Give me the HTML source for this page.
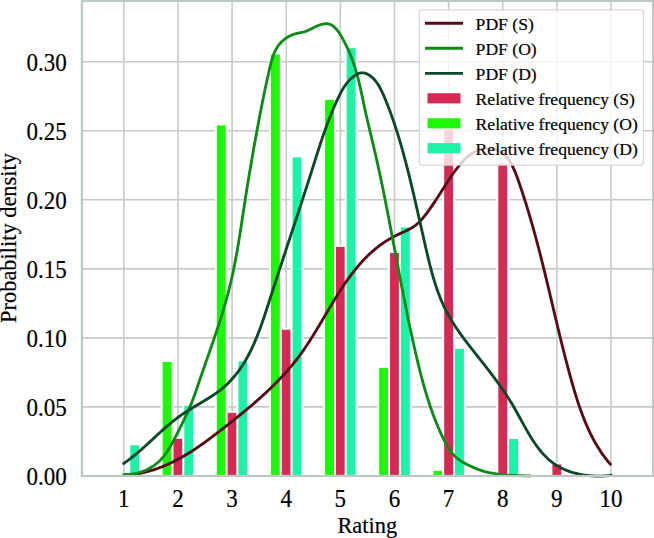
<!DOCTYPE html>
<html><head><meta charset="utf-8"><style>
html,body{margin:0;padding:0;background:#fff;width:654px;height:538px;overflow:hidden}
svg{display:block}
text{font-family:"Liberation Serif",serif;fill:#000;stroke:#000;stroke-width:0.2px}
</style></head><body>
<svg width="654" height="538" viewBox="0 0 654 538">
<rect width="654" height="538" fill="#fff"/>
<g stroke="#c4cbc8" stroke-width="1.6" fill="none">
<line x1="123.83" y1="1.0" x2="123.83" y2="476.0" />
<line x1="177.96" y1="1.0" x2="177.96" y2="476.0" />
<line x1="232.09" y1="1.0" x2="232.09" y2="476.0" />
<line x1="286.22" y1="1.0" x2="286.22" y2="476.0" />
<line x1="340.35" y1="1.0" x2="340.35" y2="476.0" />
<line x1="394.48" y1="1.0" x2="394.48" y2="476.0" />
<line x1="448.61" y1="1.0" x2="448.61" y2="476.0" />
<line x1="502.74" y1="1.0" x2="502.74" y2="476.0" />
<line x1="556.87" y1="1.0" x2="556.87" y2="476.0" />
<line x1="611.00" y1="1.0" x2="611.00" y2="476.0" />
<line x1="81.9" y1="406.88" x2="653.2" y2="406.88" />
<line x1="81.9" y1="337.86" x2="653.2" y2="337.86" />
<line x1="81.9" y1="268.84" x2="653.2" y2="268.84" />
<line x1="81.9" y1="199.82" x2="653.2" y2="199.82" />
<line x1="81.9" y1="130.80" x2="653.2" y2="130.80" />
<line x1="81.9" y1="61.78" x2="653.2" y2="61.78" />
</g>
<g>
<rect x="161.72" y="360.93" width="10.83" height="114.97" fill="#1ef806" stroke="#fff" stroke-width="1.9"/>
<rect x="215.85" y="124.47" width="10.83" height="351.43" fill="#1ef806" stroke="#fff" stroke-width="1.9"/>
<rect x="269.98" y="53.65" width="10.83" height="422.25" fill="#1ef806" stroke="#fff" stroke-width="1.9"/>
<rect x="324.11" y="98.93" width="10.83" height="376.97" fill="#1ef806" stroke="#fff" stroke-width="1.9"/>
<rect x="378.24" y="367.00" width="10.83" height="108.90" fill="#1ef806" stroke="#fff" stroke-width="1.9"/>
<rect x="432.37" y="469.84" width="10.83" height="6.06" fill="#1ef806" stroke="#fff" stroke-width="1.9"/>
<rect x="172.55" y="437.82" width="10.83" height="38.08" fill="#d62a55" stroke="#fff" stroke-width="1.9"/>
<rect x="226.68" y="411.87" width="10.83" height="64.03" fill="#d62a55" stroke="#fff" stroke-width="1.9"/>
<rect x="280.81" y="328.77" width="10.83" height="147.13" fill="#d62a55" stroke="#fff" stroke-width="1.9"/>
<rect x="334.94" y="245.94" width="10.83" height="229.96" fill="#d62a55" stroke="#fff" stroke-width="1.9"/>
<rect x="389.07" y="252.02" width="10.83" height="223.88" fill="#d62a55" stroke="#fff" stroke-width="1.9"/>
<rect x="443.20" y="128.47" width="10.83" height="347.43" fill="#d62a55" stroke="#fff" stroke-width="1.9"/>
<rect x="497.33" y="162.57" width="10.83" height="313.33" fill="#d62a55" stroke="#fff" stroke-width="1.9"/>
<rect x="551.46" y="463.49" width="10.83" height="12.41" fill="#d62a55" stroke="#fff" stroke-width="1.9"/>
<rect x="129.24" y="444.31" width="10.83" height="31.59" fill="#1ef2a6" stroke="#fff" stroke-width="1.9"/>
<rect x="183.37" y="404.83" width="10.83" height="71.07" fill="#1ef2a6" stroke="#fff" stroke-width="1.9"/>
<rect x="237.50" y="360.51" width="10.83" height="115.39" fill="#1ef2a6" stroke="#fff" stroke-width="1.9"/>
<rect x="291.63" y="156.49" width="10.83" height="319.41" fill="#1ef2a6" stroke="#fff" stroke-width="1.9"/>
<rect x="345.76" y="47.16" width="10.83" height="428.74" fill="#1ef2a6" stroke="#fff" stroke-width="1.9"/>
<rect x="399.89" y="226.48" width="10.83" height="249.42" fill="#1ef2a6" stroke="#fff" stroke-width="1.9"/>
<rect x="454.02" y="347.82" width="10.83" height="128.08" fill="#1ef2a6" stroke="#fff" stroke-width="1.9"/>
<rect x="508.15" y="437.96" width="10.83" height="37.94" fill="#1ef2a6" stroke="#fff" stroke-width="1.9"/>
</g>
<g fill="none" stroke-width="2.85" stroke-linecap="round" stroke-linejoin="round">
<path d="M124.03,475.13 L125.28,475.07 L126.53,474.99 L127.78,474.91 L129.01,474.81 L130.25,474.69 L131.48,474.56 L132.70,474.42 L133.92,474.26 L135.14,474.09 L136.35,473.91 L137.56,473.71 L138.76,473.50 L139.96,473.28 L141.15,473.04 L142.34,472.79 L143.52,472.53 L144.70,472.26 L145.88,471.98 L147.05,471.68 L148.22,471.37 L149.38,471.05 L150.54,470.72 L151.69,470.38 L152.84,470.02 L153.99,469.66 L155.13,469.28 L156.27,468.90 L157.41,468.50 L158.54,468.09 L159.66,467.67 L160.79,467.24 L161.91,466.81 L163.02,466.36 L164.14,465.90 L165.25,465.43 L166.35,464.96 L167.45,464.47 L168.55,463.97 L169.65,463.47 L170.74,462.96 L171.83,462.44 L172.91,461.91 L173.99,461.37 L175.07,460.82 L176.15,460.27 L177.22,459.70 L178.29,459.13 L179.35,458.56 L180.42,457.97 L181.48,457.38 L182.53,456.78 L183.59,456.17 L184.64,455.56 L185.69,454.94 L186.73,454.31 L187.78,453.68 L188.82,453.04 L189.85,452.40 L190.89,451.74 L191.92,451.09 L192.95,450.43 L193.98,449.76 L195.00,449.08 L196.02,448.41 L197.04,447.72 L198.06,447.03 L199.08,446.34 L200.09,445.64 L201.10,444.94 L202.11,444.23 L203.12,443.52 L204.12,442.81 L205.12,442.09 L206.12,441.37 L207.12,440.64 L208.12,439.91 L209.11,439.18 L210.11,438.45 L211.10,437.71 L212.09,436.97 L213.07,436.22 L214.06,435.48 L215.04,434.73 L216.02,433.98 L217.01,433.23 L217.98,432.47 L218.96,431.72 L219.94,430.96 L220.91,430.20 L221.89,429.44 L222.86,428.68 L223.83,427.92 L224.80,427.15 L225.77,426.39 L226.74,425.63 L227.70,424.86 L228.67,424.10 L229.63,423.33 L230.59,422.57 L231.56,421.80 L232.52,421.03 L233.48,420.27 L234.43,419.50 L235.39,418.73 L236.34,417.96 L237.30,417.20 L238.25,416.43 L239.20,415.66 L240.15,414.88 L241.09,414.11 L242.04,413.34 L242.98,412.56 L243.92,411.79 L244.86,411.01 L245.80,410.23 L246.74,409.45 L247.67,408.67 L248.60,407.89 L249.53,407.11 L250.46,406.32 L251.39,405.54 L252.31,404.75 L253.23,403.96 L254.15,403.17 L255.07,402.37 L255.98,401.58 L256.89,400.78 L257.80,399.98 L258.71,399.18 L259.61,398.38 L260.51,397.57 L261.41,396.76 L262.31,395.95 L263.20,395.14 L264.09,394.33 L264.98,393.51 L265.86,392.69 L266.75,391.87 L267.62,391.04 L268.50,390.22 L269.37,389.39 L270.24,388.55 L271.11,387.72 L271.97,386.88 L272.83,386.04 L273.69,385.19 L274.54,384.34 L275.39,383.49 L276.24,382.64 L277.08,381.78 L277.92,380.92 L278.76,380.06 L279.59,379.19 L280.42,378.32 L281.24,377.45 L282.06,376.57 L282.88,375.69 L283.70,374.80 L284.50,373.92 L285.31,373.02 L286.11,372.13 L286.91,371.23 L287.70,370.32 L288.49,369.41 L289.28,368.50 L290.06,367.58 L290.84,366.66 L291.61,365.74 L292.38,364.81 L293.14,363.88 L293.90,362.94 L294.66,362.00 L295.41,361.05 L296.15,360.10 L296.89,359.14 L297.63,358.18 L298.36,357.21 L299.09,356.24 L299.81,355.27 L300.53,354.29 L301.24,353.30 L301.95,352.31 L302.66,351.32 L303.36,350.32 L304.05,349.32 L304.74,348.31 L305.43,347.30 L306.12,346.29 L306.80,345.27 L307.48,344.25 L308.15,343.22 L308.82,342.19 L309.49,341.16 L310.15,340.13 L310.82,339.09 L311.48,338.05 L312.13,337.01 L312.79,335.96 L313.44,334.92 L314.09,333.87 L314.74,332.81 L315.38,331.76 L316.03,330.70 L316.67,329.65 L317.31,328.59 L317.95,327.53 L318.58,326.47 L319.22,325.40 L319.86,324.34 L320.49,323.27 L321.12,322.21 L321.76,321.14 L322.39,320.07 L323.02,319.00 L323.65,317.94 L324.28,316.87 L324.91,315.80 L325.54,314.73 L326.17,313.66 L326.81,312.59 L327.44,311.53 L328.07,310.46 L328.70,309.39 L329.33,308.33 L329.97,307.26 L330.60,306.20 L331.24,305.14 L331.88,304.07 L332.52,303.02 L333.16,301.96 L333.80,300.90 L334.44,299.85 L335.09,298.79 L335.73,297.74 L336.38,296.69 L337.04,295.65 L337.69,294.60 L338.35,293.56 L339.01,292.52 L339.67,291.49 L340.33,290.45 L341.00,289.42 L341.67,288.40 L342.34,287.38 L343.02,286.36 L343.70,285.34 L344.39,284.33 L345.07,283.32 L345.77,282.31 L346.46,281.31 L347.16,280.32 L347.86,279.33 L348.57,278.34 L349.29,277.35 L350.00,276.38 L350.72,275.40 L351.45,274.44 L352.18,273.47 L352.92,272.51 L353.66,271.56 L354.41,270.61 L355.16,269.67 L355.92,268.74 L356.68,267.81 L357.45,266.88 L358.23,265.97 L359.01,265.05 L359.80,264.15 L360.59,263.25 L361.39,262.36 L362.20,261.47 L363.01,260.60 L363.83,259.72 L364.66,258.86 L365.49,258.00 L366.33,257.15 L367.18,256.31 L368.04,255.48 L368.90,254.65 L369.77,253.83 L370.65,253.02 L371.54,252.22 L372.43,251.43 L373.34,250.64 L374.25,249.86 L375.17,249.09 L376.09,248.33 L377.03,247.58 L377.98,246.84 L378.93,246.11 L379.89,245.39 L380.87,244.67 L381.85,243.97 L382.84,243.27 L383.84,242.59 L384.85,241.91 L385.87,241.25 L386.90,240.59 L387.94,239.95 L388.99,239.32 L390.05,238.69 L391.12,238.08 L392.20,237.48 L393.29,236.89 L394.39,236.31 L395.51,235.74 L396.63,235.18 L397.76,234.64 L398.91,234.10 L400.06,233.58 L401.22,233.05 L402.38,232.53 L403.54,232.01 L404.69,231.49 L405.84,230.95 L406.98,230.41 L408.11,229.85 L409.22,229.28 L410.31,228.69 L411.38,228.07 L412.42,227.43 L413.44,226.76 L414.43,226.06 L415.39,225.34 L416.33,224.59 L417.25,223.81 L418.14,223.01 L419.01,222.19 L419.86,221.35 L420.70,220.49 L421.51,219.61 L422.31,218.71 L423.10,217.80 L423.87,216.88 L424.63,215.94 L425.37,214.99 L426.11,214.04 L426.84,213.07 L427.56,212.10 L428.27,211.12 L428.98,210.13 L429.68,209.14 L430.38,208.15 L431.07,207.16 L431.76,206.16 L432.45,205.15 L433.13,204.15 L433.81,203.14 L434.49,202.12 L435.16,201.11 L435.83,200.09 L436.50,199.07 L437.17,198.04 L437.84,197.02 L438.50,195.99 L439.16,194.96 L439.83,193.93 L440.49,192.90 L441.15,191.86 L441.81,190.83 L442.47,189.79 L443.13,188.75 L443.80,187.72 L444.46,186.68 L445.13,185.64 L445.79,184.60 L446.46,183.56 L447.13,182.52 L447.80,181.48 L448.48,180.44 L449.16,179.41 L449.84,178.37 L450.53,177.34 L451.23,176.31 L451.93,175.29 L452.63,174.27 L453.35,173.25 L454.07,172.24 L454.80,171.23 L455.54,170.23 L456.29,169.23 L457.05,168.25 L457.82,167.27 L458.60,166.30 L459.39,165.33 L460.20,164.38 L461.02,163.43 L461.86,162.50 L462.71,161.58 L463.57,160.66 L464.45,159.76 L465.35,158.88 L466.26,158.01 L467.19,157.16 L468.14,156.33 L469.10,155.53 L470.09,154.76 L471.09,154.03 L472.11,153.32 L473.16,152.66 L474.22,152.04 L475.31,151.46 L476.41,150.93 L477.54,150.44 L478.69,150.02 L479.85,149.64 L481.03,149.31 L482.22,149.04 L483.42,148.81 L484.62,148.64 L485.82,148.52 L487.02,148.45 L488.22,148.42 L489.41,148.45 L490.58,148.53 L491.74,148.66 L492.88,148.84 L494.00,149.06 L495.10,149.34 L496.17,149.66 L497.20,150.03 L498.21,150.46 L499.18,150.92 L500.12,151.44 L501.03,151.99 L501.91,152.59 L502.77,153.23 L503.60,153.91 L504.40,154.62 L505.17,155.38 L505.92,156.16 L506.65,156.99 L507.35,157.84 L508.04,158.73 L508.70,159.64 L509.34,160.58 L509.96,161.55 L510.56,162.54 L511.14,163.56 L511.71,164.60 L512.26,165.66 L512.80,166.74 L513.32,167.84 L513.83,168.96 L514.33,170.09 L514.81,171.23 L515.29,172.39 L515.75,173.56 L516.21,174.74 L516.66,175.92 L517.10,177.11 L517.53,178.31 L517.96,179.51 L518.38,180.72 L518.80,181.92 L519.22,183.13 L519.64,184.33 L520.05,185.54 L520.46,186.74 L520.86,187.94 L521.27,189.14 L521.67,190.35 L522.07,191.55 L522.46,192.75 L522.86,193.95 L523.25,195.15 L523.64,196.35 L524.02,197.54 L524.41,198.74 L524.79,199.94 L525.17,201.14 L525.55,202.33 L525.92,203.53 L526.29,204.72 L526.66,205.92 L527.03,207.11 L527.40,208.31 L527.76,209.50 L528.12,210.70 L528.48,211.89 L528.84,213.08 L529.20,214.27 L529.55,215.46 L529.90,216.65 L530.25,217.85 L530.60,219.04 L530.95,220.23 L531.29,221.41 L531.63,222.60 L531.97,223.79 L532.31,224.98 L532.65,226.17 L532.98,227.36 L533.31,228.54 L533.65,229.73 L533.98,230.92 L534.30,232.10 L534.63,233.29 L534.96,234.47 L535.28,235.66 L535.60,236.84 L535.92,238.03 L536.24,239.21 L536.56,240.40 L536.87,241.58 L537.19,242.76 L537.50,243.95 L537.81,245.13 L538.12,246.31 L538.43,247.49 L538.74,248.68 L539.05,249.86 L539.35,251.04 L539.66,252.22 L539.96,253.40 L540.26,254.58 L540.56,255.76 L540.86,256.94 L541.16,258.12 L541.46,259.30 L541.75,260.48 L542.05,261.66 L542.34,262.84 L542.64,264.02 L542.93,265.20 L543.22,266.38 L543.51,267.56 L543.80,268.74 L544.09,269.91 L544.38,271.09 L544.67,272.27 L544.96,273.45 L545.24,274.63 L545.53,275.80 L545.82,276.98 L546.10,278.16 L546.38,279.34 L546.67,280.51 L546.95,281.69 L547.23,282.87 L547.51,284.05 L547.80,285.22 L548.08,286.40 L548.36,287.58 L548.64,288.75 L548.92,289.93 L549.20,291.11 L549.48,292.28 L549.76,293.46 L550.03,294.64 L550.31,295.81 L550.59,296.99 L550.87,298.17 L551.15,299.34 L551.43,300.52 L551.70,301.70 L551.98,302.87 L552.26,304.05 L552.54,305.23 L552.82,306.40 L553.09,307.58 L553.37,308.76 L553.65,309.93 L553.93,311.11 L554.21,312.29 L554.48,313.46 L554.76,314.64 L555.04,315.82 L555.32,317.00 L555.60,318.17 L555.88,319.35 L556.16,320.53 L556.44,321.71 L556.72,322.88 L557.00,324.06 L557.29,325.24 L557.57,326.42 L557.85,327.60 L558.13,328.77 L558.42,329.95 L558.70,331.13 L558.99,332.31 L559.27,333.49 L559.56,334.67 L559.85,335.85 L560.13,337.03 L560.42,338.21 L560.71,339.39 L561.00,340.57 L561.29,341.75 L561.58,342.93 L561.88,344.11 L562.17,345.29 L562.46,346.47 L562.76,347.66 L563.06,348.84 L563.35,350.02 L563.65,351.20 L563.95,352.38 L564.25,353.57 L564.55,354.75 L564.86,355.93 L565.16,357.12 L565.46,358.30 L565.77,359.49 L566.08,360.67 L566.39,361.86 L566.70,363.04 L567.01,364.23 L567.32,365.41 L567.64,366.60 L567.95,367.79 L568.27,368.97 L568.59,370.16 L568.91,371.35 L569.23,372.54 L569.55,373.73 L569.87,374.91 L570.20,376.10 L570.53,377.29 L570.86,378.48 L571.19,379.67 L571.52,380.86 L571.86,382.06 L572.19,383.25 L572.53,384.44 L572.87,385.63 L573.22,386.82 L573.56,388.01 L573.91,389.20 L574.26,390.38 L574.62,391.57 L574.98,392.76 L575.34,393.94 L575.70,395.13 L576.07,396.31 L576.44,397.50 L576.81,398.68 L577.19,399.86 L577.57,401.03 L577.95,402.21 L578.34,403.39 L578.73,404.56 L579.13,405.73 L579.53,406.90 L579.94,408.07 L580.34,409.23 L580.76,410.39 L581.18,411.55 L581.60,412.71 L582.03,413.87 L582.46,415.02 L582.90,416.17 L583.34,417.32 L583.79,418.46 L584.25,419.60 L584.71,420.74 L585.17,421.87 L585.64,423.00 L586.12,424.13 L586.60,425.25 L587.09,426.37 L587.59,427.48 L588.09,428.60 L588.59,429.70 L589.11,430.81 L589.63,431.91 L590.16,433.00 L590.69,434.09 L591.23,435.18 L591.78,436.26 L592.33,437.33 L592.89,438.41 L593.46,439.47 L594.04,440.53 L594.62,441.59 L595.22,442.64 L595.82,443.69 L596.42,444.73 L597.04,445.76 L597.66,446.79 L598.29,447.81 L598.93,448.83 L599.58,449.84 L600.24,450.85 L600.91,451.85 L601.58,452.84 L602.26,453.83 L602.95,454.81 L603.66,455.78 L604.37,456.75 L605.08,457.71 L605.81,458.66 L606.55,459.61 L607.30,460.55 L608.06,461.48 L608.82,462.41 L609.60,463.32 L610.39,464.23" stroke="#580b14"/>
<path d="M123.94,474.31 L125.40,474.39 L126.88,474.40 L128.36,474.37 L129.86,474.27 L131.36,474.13 L132.87,473.93 L134.38,473.68 L135.89,473.38 L137.39,473.04 L138.89,472.64 L140.39,472.19 L141.87,471.70 L143.33,471.16 L144.79,470.58 L146.22,469.95 L147.63,469.28 L149.02,468.57 L150.39,467.82 L151.72,467.02 L153.03,466.19 L154.30,465.31 L155.53,464.40 L156.73,463.45 L157.88,462.47 L159.00,461.45 L160.07,460.40 L161.11,459.31 L162.12,458.20 L163.09,457.06 L164.03,455.89 L164.94,454.70 L165.82,453.48 L166.68,452.25 L167.52,450.99 L168.33,449.71 L169.13,448.42 L169.90,447.12 L170.66,445.80 L171.41,444.47 L172.14,443.12 L172.87,441.78 L173.58,440.42 L174.29,439.06 L175.00,437.70 L175.70,436.33 L176.41,434.97 L177.11,433.60 L177.81,432.24 L178.50,430.87 L179.20,429.50 L179.89,428.14 L180.58,426.77 L181.27,425.40 L181.95,424.03 L182.62,422.65 L183.30,421.28 L183.96,419.90 L184.63,418.52 L185.28,417.14 L185.93,415.76 L186.57,414.38 L187.21,412.99 L187.84,411.60 L188.46,410.21 L189.07,408.82 L189.67,407.42 L190.27,406.02 L190.86,404.61 L191.43,403.21 L192.00,401.80 L192.55,400.38 L193.10,398.96 L193.63,397.54 L194.16,396.12 L194.68,394.69 L195.19,393.26 L195.70,391.83 L196.20,390.40 L196.70,388.96 L197.19,387.53 L197.68,386.09 L198.17,384.65 L198.66,383.21 L199.15,381.77 L199.64,380.33 L200.13,378.89 L200.62,377.44 L201.11,376.00 L201.61,374.56 L202.11,373.12 L202.60,371.68 L203.10,370.24 L203.60,368.80 L204.10,367.35 L204.60,365.91 L205.11,364.47 L205.61,363.03 L206.11,361.59 L206.62,360.14 L207.12,358.70 L207.62,357.26 L208.13,355.82 L208.63,354.37 L209.14,352.93 L209.64,351.48 L210.14,350.04 L210.64,348.60 L211.14,347.15 L211.64,345.70 L212.14,344.26 L212.64,342.81 L213.14,341.37 L213.63,339.92 L214.13,338.47 L214.62,337.02 L215.11,335.57 L215.60,334.12 L216.09,332.67 L216.57,331.22 L217.05,329.77 L217.53,328.32 L218.01,326.87 L218.49,325.42 L218.96,323.96 L219.43,322.51 L219.90,321.05 L220.36,319.60 L220.82,318.14 L221.28,316.68 L221.73,315.23 L222.18,313.77 L222.63,312.31 L223.08,310.85 L223.51,309.39 L223.95,307.92 L224.38,306.46 L224.81,305.00 L225.23,303.53 L225.65,302.07 L226.07,300.60 L226.48,299.13 L226.88,297.66 L227.28,296.19 L227.68,294.72 L228.07,293.25 L228.45,291.78 L228.83,290.31 L229.20,288.83 L229.57,287.35 L229.93,285.88 L230.29,284.40 L230.64,282.92 L230.99,281.44 L231.33,279.96 L231.67,278.48 L232.00,276.99 L232.33,275.51 L232.65,274.02 L232.97,272.54 L233.28,271.05 L233.59,269.56 L233.89,268.07 L234.19,266.58 L234.49,265.09 L234.78,263.60 L235.07,262.11 L235.36,260.61 L235.64,259.12 L235.92,257.62 L236.19,256.13 L236.46,254.63 L236.73,253.13 L237.00,251.64 L237.26,250.14 L237.52,248.64 L237.78,247.14 L238.03,245.64 L238.29,244.14 L238.54,242.63 L238.78,241.13 L239.03,239.63 L239.28,238.13 L239.52,236.62 L239.76,235.12 L240.00,233.61 L240.24,232.11 L240.47,230.60 L240.71,229.09 L240.94,227.59 L241.18,226.08 L241.41,224.57 L241.64,223.06 L241.87,221.56 L242.10,220.05 L242.33,218.54 L242.56,217.03 L242.79,215.52 L243.02,214.01 L243.25,212.50 L243.48,210.99 L243.71,209.48 L243.94,207.97 L244.17,206.46 L244.40,204.94 L244.63,203.43 L244.87,201.92 L245.10,200.41 L245.33,198.90 L245.57,197.39 L245.81,195.87 L246.05,194.36 L246.28,192.85 L246.52,191.34 L246.77,189.83 L247.01,188.32 L247.25,186.80 L247.50,185.29 L247.74,183.78 L247.99,182.27 L248.24,180.76 L248.48,179.25 L248.73,177.74 L248.98,176.23 L249.23,174.72 L249.49,173.21 L249.74,171.70 L249.99,170.19 L250.25,168.68 L250.50,167.17 L250.76,165.67 L251.02,164.16 L251.28,162.65 L251.54,161.14 L251.80,159.64 L252.06,158.13 L252.32,156.63 L252.58,155.12 L252.84,153.62 L253.11,152.12 L253.37,150.61 L253.64,149.11 L253.90,147.61 L254.17,146.11 L254.44,144.61 L254.71,143.11 L254.98,141.62 L255.25,140.12 L255.52,138.62 L255.79,137.13 L256.06,135.63 L256.33,134.14 L256.60,132.65 L256.88,131.15 L257.15,129.66 L257.43,128.17 L257.70,126.69 L257.98,125.20 L258.26,123.71 L258.54,122.22 L258.81,120.74 L259.09,119.25 L259.38,117.77 L259.66,116.28 L259.94,114.80 L260.23,113.31 L260.51,111.83 L260.80,110.34 L261.09,108.86 L261.38,107.37 L261.67,105.89 L261.96,104.40 L262.26,102.91 L262.56,101.43 L262.85,99.94 L263.16,98.45 L263.46,96.96 L263.76,95.47 L264.07,93.98 L264.38,92.49 L264.69,91.00 L265.00,89.51 L265.32,88.01 L265.63,86.51 L265.95,85.02 L266.28,83.52 L266.60,82.01 L266.93,80.51 L267.26,79.01 L267.59,77.50 L267.93,75.99 L268.27,74.48 L268.61,72.97 L268.95,71.45 L269.30,69.94 L269.65,68.42 L270.01,66.89 L270.37,65.37 L270.74,63.86 L271.13,62.35 L271.54,60.85 L271.97,59.36 L272.43,57.89 L272.92,56.43 L273.44,54.99 L273.99,53.58 L274.59,52.19 L275.22,50.82 L275.91,49.49 L276.65,48.19 L277.43,46.92 L278.28,45.69 L279.19,44.50 L280.16,43.36 L281.18,42.26 L282.26,41.20 L283.39,40.20 L284.56,39.25 L285.78,38.35 L287.04,37.51 L288.34,36.73 L289.67,36.01 L291.04,35.36 L292.44,34.77 L293.86,34.25 L295.30,33.81 L296.76,33.43 L298.24,33.10 L299.72,32.80 L301.19,32.50 L302.66,32.19 L304.10,31.82 L305.52,31.39 L306.90,30.88 L308.28,30.30 L309.64,29.66 L311.03,28.98 L312.44,28.27 L313.89,27.56 L315.37,26.85 L316.87,26.17 L318.39,25.54 L319.90,24.97 L321.40,24.48 L322.89,24.10 L324.36,23.83 L325.79,23.70 L327.17,23.72 L328.51,23.91 L329.79,24.27 L331.02,24.79 L332.20,25.45 L333.34,26.25 L334.43,27.16 L335.48,28.18 L336.49,29.29 L337.46,30.48 L338.40,31.75 L339.30,33.06 L340.18,34.43 L341.02,35.82 L341.84,37.24 L342.64,38.66 L343.42,40.08 L344.17,41.49 L344.90,42.91 L345.62,44.32 L346.31,45.73 L346.99,47.14 L347.65,48.54 L348.29,49.95 L348.91,51.35 L349.51,52.75 L350.10,54.16 L350.67,55.56 L351.23,56.97 L351.77,58.37 L352.30,59.78 L352.81,61.19 L353.31,62.60 L353.79,64.01 L354.27,65.42 L354.73,66.84 L355.18,68.26 L355.61,69.69 L356.04,71.12 L356.46,72.55 L356.87,73.99 L357.26,75.43 L357.65,76.88 L358.04,78.33 L358.41,79.79 L358.77,81.26 L359.13,82.73 L359.49,84.21 L359.83,85.69 L360.18,87.17 L360.51,88.67 L360.85,90.16 L361.18,91.66 L361.50,93.16 L361.83,94.67 L362.15,96.17 L362.47,97.68 L362.78,99.19 L363.10,100.70 L363.42,102.21 L363.74,103.72 L364.06,105.23 L364.38,106.74 L364.70,108.24 L365.03,109.75 L365.36,111.25 L365.69,112.75 L366.02,114.25 L366.36,115.74 L366.70,117.23 L367.04,118.73 L367.38,120.21 L367.73,121.70 L368.07,123.19 L368.42,124.67 L368.77,126.16 L369.12,127.64 L369.48,129.12 L369.83,130.60 L370.18,132.08 L370.54,133.55 L370.89,135.03 L371.24,136.51 L371.60,137.99 L371.95,139.46 L372.30,140.94 L372.66,142.41 L373.01,143.89 L373.36,145.37 L373.71,146.85 L374.05,148.32 L374.40,149.80 L374.74,151.28 L375.09,152.76 L375.43,154.24 L375.77,155.72 L376.10,157.20 L376.44,158.69 L376.77,160.17 L377.11,161.65 L377.44,163.14 L377.77,164.62 L378.09,166.11 L378.42,167.60 L378.75,169.08 L379.07,170.57 L379.39,172.06 L379.71,173.55 L380.03,175.04 L380.35,176.53 L380.66,178.02 L380.98,179.51 L381.29,181.00 L381.60,182.49 L381.91,183.98 L382.22,185.48 L382.53,186.97 L382.84,188.46 L383.15,189.96 L383.45,191.45 L383.76,192.95 L384.06,194.44 L384.36,195.94 L384.66,197.44 L384.96,198.93 L385.26,200.43 L385.56,201.93 L385.86,203.42 L386.15,204.92 L386.45,206.42 L386.74,207.92 L387.04,209.42 L387.33,210.91 L387.62,212.41 L387.92,213.91 L388.21,215.41 L388.50,216.91 L388.79,218.41 L389.08,219.91 L389.37,221.41 L389.65,222.91 L389.94,224.41 L390.23,225.91 L390.52,227.41 L390.80,228.91 L391.09,230.41 L391.37,231.91 L391.66,233.41 L391.94,234.91 L392.23,236.42 L392.51,237.92 L392.80,239.42 L393.08,240.92 L393.36,242.42 L393.65,243.92 L393.93,245.42 L394.21,246.92 L394.49,248.42 L394.78,249.92 L395.06,251.42 L395.34,252.92 L395.62,254.42 L395.91,255.92 L396.19,257.42 L396.47,258.92 L396.76,260.42 L397.04,261.92 L397.32,263.41 L397.60,264.91 L397.89,266.41 L398.17,267.91 L398.46,269.41 L398.74,270.91 L399.03,272.40 L399.31,273.90 L399.60,275.40 L399.88,276.90 L400.17,278.39 L400.46,279.89 L400.74,281.39 L401.03,282.88 L401.32,284.38 L401.61,285.88 L401.90,287.37 L402.19,288.87 L402.48,290.36 L402.77,291.86 L403.06,293.35 L403.35,294.85 L403.65,296.34 L403.94,297.84 L404.24,299.33 L404.53,300.83 L404.83,302.32 L405.13,303.82 L405.43,305.31 L405.73,306.80 L406.03,308.30 L406.33,309.79 L406.63,311.28 L406.94,312.78 L407.24,314.27 L407.55,315.76 L407.85,317.25 L408.16,318.75 L408.47,320.24 L408.78,321.73 L409.09,323.22 L409.41,324.71 L409.72,326.20 L410.04,327.70 L410.36,329.19 L410.67,330.68 L410.99,332.17 L411.32,333.66 L411.64,335.15 L411.96,336.64 L412.29,338.13 L412.62,339.62 L412.95,341.11 L413.28,342.59 L413.61,344.08 L413.94,345.57 L414.28,347.06 L414.62,348.55 L414.96,350.04 L415.30,351.52 L415.64,353.01 L415.98,354.50 L416.33,355.99 L416.68,357.47 L417.03,358.96 L417.38,360.45 L417.74,361.93 L418.09,363.42 L418.45,364.90 L418.82,366.39 L419.18,367.87 L419.55,369.35 L419.92,370.83 L420.30,372.32 L420.67,373.80 L421.06,375.28 L421.44,376.75 L421.83,378.23 L422.22,379.71 L422.62,381.18 L423.02,382.66 L423.42,384.13 L423.83,385.60 L424.25,387.07 L424.67,388.54 L425.09,390.00 L425.52,391.47 L425.95,392.93 L426.39,394.39 L426.84,395.85 L427.29,397.31 L427.74,398.76 L428.20,400.22 L428.67,401.67 L429.14,403.12 L429.62,404.57 L430.11,406.01 L430.60,407.45 L431.10,408.89 L431.60,410.33 L432.11,411.77 L432.63,413.20 L433.16,414.63 L433.69,416.05 L434.23,417.48 L434.78,418.90 L435.34,420.32 L435.90,421.73 L436.47,423.15 L437.05,424.56 L437.64,425.96 L438.23,427.37 L438.84,428.77 L439.45,430.16 L440.07,431.56 L440.70,432.95 L441.34,434.33 L441.99,435.71 L442.65,437.09 L443.32,438.47 L443.99,439.84 L444.68,441.21 L445.38,442.56 L446.10,443.91 L446.84,445.25 L447.60,446.56 L448.38,447.86 L449.19,449.14 L450.04,450.39 L450.91,451.61 L451.83,452.80 L452.78,453.96 L453.78,455.08 L454.82,456.17 L455.90,457.21 L457.04,458.20 L458.24,459.15 L459.48,460.05 L460.77,460.91 L462.10,461.72 L463.46,462.51 L464.84,463.26 L466.22,463.99 L467.61,464.71 L469.00,465.41 L470.40,466.08 L471.79,466.74 L473.18,467.38 L474.58,467.99 L475.99,468.58 L477.40,469.14 L478.82,469.68 L480.25,470.18 L481.69,470.65 L483.14,471.09 L484.59,471.51 L486.06,471.89 L487.53,472.25 L489.00,472.59 L490.49,472.90 L491.98,473.19 L493.47,473.46 L494.98,473.71 L496.48,473.93 L497.99,474.14 L499.51,474.33 L501.02,474.50 L502.55,474.66 L504.07,474.80 L505.60,474.93 L507.13,475.05 L508.65,475.15 L510.19,475.25 L511.72,475.33 L513.25,475.41 L514.78,475.48 L516.31,475.54 L517.84,475.60 L519.37,475.65 L520.89,475.70 L522.42,475.75 L523.94,475.79 L525.46,475.84 L526.97,475.89 L528.48,475.93 L529.99,475.99" stroke="#0e8a18"/>
<path d="M123.66,463.46 L124.86,462.63 L126.06,461.80 L127.24,460.95 L128.41,460.09 L129.56,459.23 L130.71,458.36 L131.84,457.48 L132.97,456.60 L134.08,455.71 L135.18,454.81 L136.28,453.91 L137.36,453.00 L138.44,452.09 L139.51,451.18 L140.58,450.26 L141.63,449.33 L142.68,448.41 L143.73,447.48 L144.76,446.54 L145.80,445.61 L146.83,444.67 L147.85,443.73 L148.88,442.79 L149.90,441.85 L150.91,440.90 L151.93,439.96 L152.94,439.02 L153.96,438.08 L154.97,437.14 L155.98,436.20 L157.00,435.26 L158.01,434.32 L159.02,433.39 L160.04,432.45 L161.06,431.52 L162.08,430.60 L163.11,429.68 L164.14,428.76 L165.17,427.84 L166.21,426.93 L167.26,426.03 L168.31,425.13 L169.36,424.24 L170.43,423.35 L171.49,422.47 L172.57,421.59 L173.66,420.73 L174.75,419.87 L175.86,419.02 L176.97,418.17 L178.09,417.34 L179.22,416.51 L180.37,415.69 L181.52,414.89 L182.69,414.09 L183.87,413.30 L185.06,412.52 L186.25,411.74 L187.46,410.98 L188.67,410.22 L189.89,409.46 L191.11,408.71 L192.34,407.97 L193.58,407.22 L194.81,406.48 L196.05,405.74 L197.29,405.01 L198.53,404.27 L199.77,403.53 L201.01,402.79 L202.25,402.05 L203.49,401.31 L204.72,400.57 L205.94,399.82 L207.17,399.07 L208.38,398.31 L209.59,397.54 L210.79,396.77 L211.98,396.00 L213.17,395.21 L214.34,394.42 L215.50,393.61 L216.65,392.80 L217.79,391.98 L218.91,391.14 L220.02,390.29 L221.11,389.43 L222.19,388.56 L223.25,387.67 L224.29,386.77 L225.32,385.86 L226.33,384.93 L227.32,383.99 L228.30,383.03 L229.26,382.06 L230.21,381.08 L231.14,380.09 L232.06,379.08 L232.96,378.06 L233.85,377.03 L234.72,375.99 L235.58,374.94 L236.42,373.87 L237.26,372.80 L238.07,371.71 L238.88,370.62 L239.67,369.51 L240.45,368.39 L241.22,367.26 L241.97,366.13 L242.72,364.98 L243.45,363.82 L244.17,362.66 L244.87,361.48 L245.57,360.30 L246.26,359.11 L246.93,357.91 L247.60,356.70 L248.25,355.48 L248.90,354.26 L249.53,353.02 L250.16,351.79 L250.78,350.54 L251.39,349.29 L251.98,348.03 L252.57,346.76 L253.16,345.49 L253.73,344.21 L254.30,342.93 L254.86,341.64 L255.41,340.34 L255.95,339.04 L256.49,337.74 L257.02,336.42 L257.54,335.11 L258.06,333.79 L258.57,332.47 L259.08,331.14 L259.58,329.81 L260.07,328.47 L260.56,327.14 L261.05,325.80 L261.53,324.45 L262.00,323.10 L262.47,321.76 L262.94,320.40 L263.41,319.05 L263.87,317.69 L264.32,316.34 L264.78,314.98 L265.23,313.62 L265.68,312.26 L266.13,310.90 L266.57,309.53 L267.01,308.17 L267.45,306.81 L267.89,305.45 L268.33,304.08 L268.77,302.72 L269.20,301.36 L269.64,300.00 L270.08,298.64 L270.51,297.28 L270.95,295.93 L271.38,294.57 L271.82,293.22 L272.26,291.86 L272.69,290.51 L273.13,289.16 L273.57,287.81 L274.00,286.46 L274.44,285.12 L274.88,283.77 L275.31,282.43 L275.75,281.08 L276.19,279.74 L276.62,278.40 L277.06,277.06 L277.50,275.72 L277.93,274.38 L278.37,273.04 L278.81,271.71 L279.24,270.37 L279.68,269.04 L280.12,267.70 L280.55,266.37 L280.99,265.04 L281.43,263.71 L281.86,262.38 L282.30,261.05 L282.74,259.72 L283.17,258.39 L283.61,257.06 L284.05,255.73 L284.48,254.41 L284.92,253.08 L285.36,251.75 L285.79,250.43 L286.23,249.10 L286.66,247.78 L287.10,246.46 L287.54,245.13 L287.97,243.81 L288.41,242.49 L288.84,241.17 L289.28,239.84 L289.72,238.52 L290.15,237.20 L290.59,235.88 L291.02,234.56 L291.46,233.24 L291.89,231.92 L292.33,230.60 L292.76,229.28 L293.20,227.96 L293.63,226.64 L294.07,225.32 L294.50,224.00 L294.94,222.68 L295.37,221.36 L295.80,220.04 L296.24,218.72 L296.67,217.39 L297.11,216.07 L297.54,214.75 L297.97,213.43 L298.40,212.11 L298.84,210.79 L299.27,209.47 L299.70,208.15 L300.14,206.82 L300.57,205.50 L301.00,204.18 L301.43,202.86 L301.86,201.53 L302.29,200.21 L302.72,198.88 L303.16,197.56 L303.59,196.23 L304.02,194.91 L304.45,193.58 L304.88,192.25 L305.31,190.92 L305.73,189.60 L306.16,188.27 L306.59,186.94 L307.02,185.61 L307.45,184.27 L307.88,182.94 L308.31,181.61 L308.73,180.28 L309.16,178.94 L309.59,177.61 L310.01,176.27 L310.44,174.93 L310.87,173.59 L311.29,172.25 L311.72,170.91 L312.14,169.57 L312.57,168.23 L312.99,166.89 L313.42,165.54 L313.84,164.20 L314.27,162.85 L314.69,161.51 L315.12,160.16 L315.54,158.81 L315.97,157.47 L316.40,156.12 L316.83,154.77 L317.26,153.42 L317.69,152.07 L318.12,150.73 L318.56,149.38 L318.99,148.03 L319.43,146.69 L319.87,145.34 L320.31,144.00 L320.76,142.65 L321.20,141.31 L321.65,139.97 L322.10,138.62 L322.56,137.28 L323.01,135.94 L323.47,134.61 L323.94,133.27 L324.40,131.93 L324.87,130.60 L325.35,129.27 L325.82,127.94 L326.30,126.61 L326.79,125.28 L327.28,123.96 L327.77,122.64 L328.27,121.32 L328.77,120.00 L329.28,118.69 L329.79,117.37 L330.31,116.06 L330.83,114.76 L331.35,113.45 L331.88,112.15 L332.42,110.85 L332.96,109.56 L333.51,108.26 L334.07,106.98 L334.63,105.69 L335.19,104.41 L335.76,103.13 L336.34,101.85 L336.93,100.58 L337.52,99.32 L338.12,98.05 L338.72,96.79 L339.34,95.54 L339.96,94.29 L340.60,93.05 L341.25,91.82 L341.93,90.60 L342.62,89.39 L343.34,88.20 L344.09,87.02 L344.86,85.86 L345.67,84.71 L346.51,83.59 L347.39,82.49 L348.31,81.41 L349.27,80.35 L350.28,79.32 L351.34,78.32 L352.44,77.34 L353.60,76.41 L354.79,75.54 L356.02,74.75 L357.27,74.07 L358.54,73.51 L359.83,73.11 L361.11,72.88 L362.40,72.83 L363.67,72.94 L364.93,73.22 L366.17,73.63 L367.38,74.15 L368.56,74.78 L369.70,75.50 L370.80,76.29 L371.84,77.14 L372.84,78.04 L373.80,78.99 L374.71,79.99 L375.58,81.03 L376.42,82.11 L377.22,83.24 L377.99,84.40 L378.73,85.59 L379.44,86.81 L380.12,88.05 L380.79,89.32 L381.43,90.60 L382.05,91.91 L382.65,93.22 L383.24,94.55 L383.82,95.88 L384.39,97.21 L384.95,98.55 L385.51,99.88 L386.06,101.21 L386.60,102.55 L387.13,103.88 L387.66,105.21 L388.18,106.55 L388.70,107.88 L389.21,109.21 L389.71,110.54 L390.21,111.87 L390.70,113.20 L391.19,114.54 L391.67,115.87 L392.15,117.20 L392.62,118.53 L393.08,119.86 L393.54,121.19 L393.99,122.52 L394.44,123.85 L394.89,125.19 L395.33,126.52 L395.76,127.85 L396.20,129.18 L396.62,130.51 L397.04,131.85 L397.46,133.18 L397.88,134.51 L398.29,135.85 L398.69,137.18 L399.10,138.51 L399.49,139.85 L399.89,141.18 L400.28,142.52 L400.67,143.86 L401.06,145.19 L401.44,146.53 L401.82,147.87 L402.20,149.21 L402.57,150.55 L402.94,151.89 L403.31,153.23 L403.68,154.57 L404.04,155.91 L404.40,157.26 L404.76,158.60 L405.12,159.94 L405.47,161.29 L405.83,162.64 L406.18,163.98 L406.53,165.33 L406.88,166.68 L407.22,168.03 L407.57,169.38 L407.91,170.73 L408.25,172.09 L408.59,173.44 L408.93,174.79 L409.26,176.15 L409.60,177.50 L409.93,178.86 L410.26,180.21 L410.59,181.57 L410.92,182.93 L411.25,184.29 L411.58,185.65 L411.90,187.01 L412.23,188.37 L412.55,189.73 L412.87,191.09 L413.19,192.45 L413.51,193.81 L413.83,195.18 L414.15,196.54 L414.47,197.91 L414.78,199.27 L415.10,200.64 L415.41,202.00 L415.73,203.37 L416.04,204.74 L416.36,206.11 L416.67,207.47 L416.98,208.84 L417.29,210.21 L417.60,211.58 L417.91,212.95 L418.22,214.32 L418.53,215.69 L418.85,217.07 L419.15,218.44 L419.46,219.81 L419.77,221.18 L420.08,222.56 L420.39,223.93 L420.70,225.30 L421.01,226.68 L421.32,228.05 L421.63,229.43 L421.94,230.80 L422.25,232.18 L422.56,233.55 L422.87,234.93 L423.18,236.31 L423.50,237.68 L423.81,239.06 L424.12,240.44 L424.43,241.82 L424.75,243.19 L425.06,244.57 L425.38,245.95 L425.69,247.33 L426.01,248.71 L426.33,250.08 L426.65,251.46 L426.97,252.84 L427.29,254.22 L427.61,255.60 L427.94,256.97 L428.27,258.35 L428.60,259.73 L428.94,261.10 L429.27,262.47 L429.62,263.84 L429.96,265.22 L430.31,266.58 L430.66,267.95 L431.02,269.32 L431.39,270.68 L431.76,272.04 L432.13,273.40 L432.51,274.76 L432.89,276.11 L433.28,277.47 L433.68,278.82 L434.09,280.16 L434.50,281.51 L434.91,282.85 L435.34,284.18 L435.77,285.52 L436.21,286.85 L436.66,288.18 L437.12,289.50 L437.58,290.82 L438.06,292.13 L438.54,293.44 L439.03,294.75 L439.54,296.05 L440.05,297.35 L440.57,298.65 L441.10,299.93 L441.65,301.22 L442.20,302.50 L442.76,303.77 L443.34,305.04 L443.93,306.30 L444.53,307.56 L445.14,308.81 L445.76,310.06 L446.40,311.30 L447.05,312.53 L447.71,313.76 L448.38,314.98 L449.06,316.20 L449.76,317.41 L450.47,318.62 L451.18,319.82 L451.91,321.02 L452.64,322.21 L453.39,323.39 L454.14,324.57 L454.91,325.75 L455.68,326.92 L456.46,328.09 L457.25,329.26 L458.04,330.42 L458.84,331.57 L459.65,332.72 L460.47,333.87 L461.29,335.02 L462.11,336.16 L462.95,337.30 L463.78,338.43 L464.62,339.56 L465.47,340.69 L466.32,341.82 L467.17,342.94 L468.03,344.06 L468.89,345.18 L469.75,346.30 L470.62,347.41 L471.48,348.52 L472.35,349.63 L473.22,350.74 L474.09,351.84 L474.96,352.95 L475.84,354.05 L476.71,355.15 L477.58,356.25 L478.45,357.35 L479.32,358.44 L480.18,359.54 L481.05,360.64 L481.92,361.73 L482.78,362.82 L483.64,363.92 L484.50,365.01 L485.35,366.11 L486.20,367.20 L487.05,368.30 L487.90,369.39 L488.75,370.49 L489.59,371.59 L490.43,372.69 L491.27,373.79 L492.11,374.89 L492.94,376.00 L493.77,377.10 L494.59,378.21 L495.41,379.32 L496.23,380.44 L497.05,381.55 L497.86,382.67 L498.67,383.80 L499.47,384.92 L500.27,386.05 L501.07,387.19 L501.86,388.33 L502.65,389.47 L503.44,390.61 L504.22,391.77 L505.00,392.92 L505.77,394.08 L506.54,395.25 L507.30,396.42 L508.06,397.60 L508.81,398.78 L509.56,399.97 L510.31,401.17 L511.05,402.37 L511.78,403.58 L512.51,404.79 L513.24,406.01 L513.95,407.24 L514.67,408.48 L515.38,409.72 L516.08,410.97 L516.79,412.22 L517.48,413.48 L518.18,414.74 L518.88,416.00 L519.57,417.27 L520.26,418.53 L520.96,419.80 L521.65,421.07 L522.34,422.34 L523.04,423.60 L523.74,424.87 L524.43,426.13 L525.14,427.40 L525.84,428.65 L526.55,429.91 L527.27,431.15 L527.98,432.40 L528.71,433.63 L529.44,434.86 L530.18,436.09 L530.92,437.30 L531.67,438.51 L532.43,439.70 L533.20,440.89 L533.97,442.07 L534.76,443.23 L535.56,444.39 L536.37,445.53 L537.19,446.66 L538.02,447.77 L538.86,448.87 L539.71,449.95 L540.58,451.02 L541.47,452.08 L542.36,453.11 L543.28,454.13 L544.20,455.13 L545.15,456.11 L546.11,457.07 L547.08,458.01 L548.08,458.93 L549.09,459.83 L550.12,460.71 L551.17,461.56 L552.24,462.39 L553.33,463.20 L554.44,463.98 L555.57,464.73 L556.72,465.46 L557.90,466.17 L559.09,466.85 L560.30,467.50 L561.54,468.13 L562.79,468.73 L564.05,469.31 L565.33,469.86 L566.63,470.39 L567.94,470.89 L569.27,471.37 L570.60,471.83 L571.95,472.26 L573.31,472.66 L574.69,473.05 L576.07,473.41 L577.45,473.74 L578.85,474.06 L580.25,474.35 L581.66,474.62 L583.08,474.86 L584.50,475.08 L585.92,475.28 L587.34,475.46 L588.77,475.62 L590.20,475.75 L591.63,475.86 L593.05,475.95 L594.48,476.02 L595.90,476.07 L597.33,476.10 L598.74,476.11 L600.16,476.09 L601.56,476.06 L602.96,476.00 L604.36,475.93 L605.74,475.84 L607.12,475.72 L608.48,475.59 L609.84,475.43 L611.19,475.26" stroke="#0b4829"/>
</g>
<rect x="81.9" y="1.0" width="571.3000000000001" height="475.0" fill="none" stroke="#bcc8c4" stroke-width="2.2"/>
<g font-size="23">
<text transform="translate(66.8,484.70) scale(1,1.05)" text-anchor="end">0.00</text>
<text transform="translate(66.8,415.68) scale(1,1.05)" text-anchor="end">0.05</text>
<text transform="translate(66.8,346.66) scale(1,1.05)" text-anchor="end">0.10</text>
<text transform="translate(66.8,277.64) scale(1,1.05)" text-anchor="end">0.15</text>
<text transform="translate(66.8,208.62) scale(1,1.05)" text-anchor="end">0.20</text>
<text transform="translate(66.8,139.60) scale(1,1.05)" text-anchor="end">0.25</text>
<text transform="translate(66.8,70.58) scale(1,1.05)" text-anchor="end">0.30</text>
<text transform="translate(123.83,506.8) scale(1,1.05)" text-anchor="middle">1</text>
<text transform="translate(177.96,506.8) scale(1,1.05)" text-anchor="middle">2</text>
<text transform="translate(232.09,506.8) scale(1,1.05)" text-anchor="middle">3</text>
<text transform="translate(286.22,506.8) scale(1,1.05)" text-anchor="middle">4</text>
<text transform="translate(340.35,506.8) scale(1,1.05)" text-anchor="middle">5</text>
<text transform="translate(394.48,506.8) scale(1,1.05)" text-anchor="middle">6</text>
<text transform="translate(448.61,506.8) scale(1,1.05)" text-anchor="middle">7</text>
<text transform="translate(502.74,506.8) scale(1,1.05)" text-anchor="middle">8</text>
<text transform="translate(556.87,506.8) scale(1,1.05)" text-anchor="middle">9</text>
<text transform="translate(611.00,506.8) scale(1,1.05)" text-anchor="middle">10</text>
</g>
<g font-size="22.4">
<text x="367.3" y="532.9" text-anchor="middle">Rating</text>
<text transform="translate(15.6,238) rotate(-90)" text-anchor="middle">Probability density</text>
</g>
<g font-size="17.6">
<rect x="419.3" y="9.9" width="224.2" height="155.2" rx="3" ry="3" fill="#ffffff" fill-opacity="0.8" stroke="#d6d9d8" stroke-width="1.3"/>
<line x1="425" y1="23.2" x2="463" y2="23.2" stroke="#580b14" stroke-width="2.85" />
<text x="475.6" y="29.6">PDF (S)</text>
<line x1="425" y1="48.2" x2="463" y2="48.2" stroke="#0e8a18" stroke-width="2.85" />
<text x="475.6" y="54.6">PDF (O)</text>
<line x1="425" y1="73.3" x2="463" y2="73.3" stroke="#0b4829" stroke-width="2.85" />
<text x="475.6" y="79.7">PDF (D)</text>
<rect x="427.5" y="93.2" width="33" height="10.2" fill="#d62a55"/>
<text x="475.6" y="104.7">Relative frequency (S)</text>
<rect x="427.5" y="118.2" width="33" height="10.2" fill="#1ef806"/>
<text x="475.6" y="129.7">Relative frequency (O)</text>
<rect x="427.5" y="143.1" width="33" height="10.2" fill="#1ef2a6"/>
<text x="475.6" y="154.6">Relative frequency (D)</text>
</g>
</svg>
</body></html>
